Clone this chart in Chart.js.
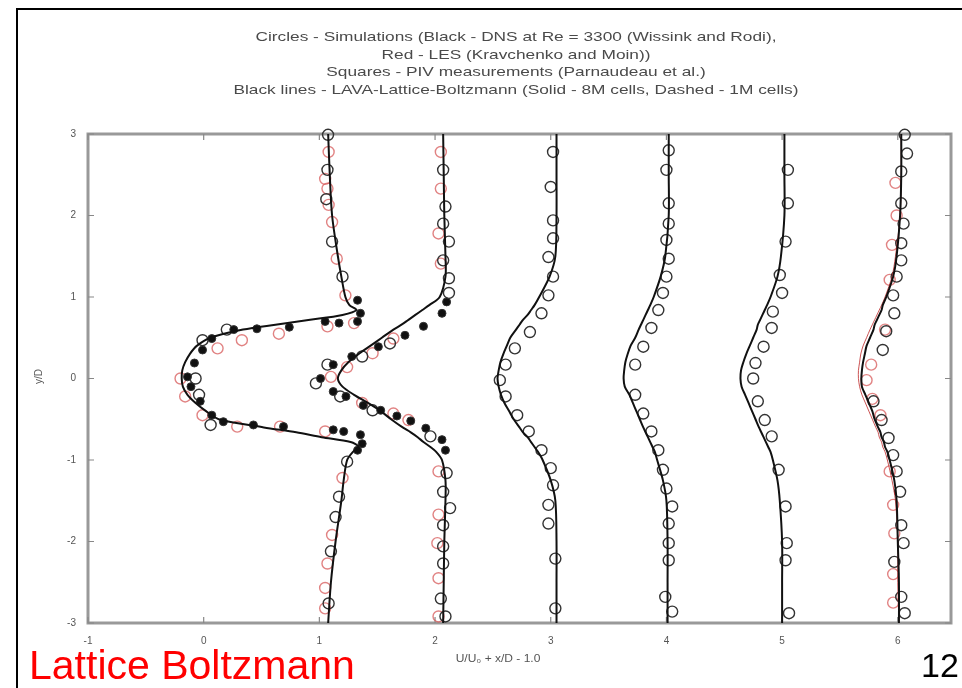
<!DOCTYPE html>
<html>
<head>
<meta charset="utf-8">
<script src="https://cdn.jsdelivr.net/npm/chart.js@4.4.1/dist/chart.umd.min.js"></script>
<style>
  html, body { margin: 0; padding: 0; background: #fff; }
  #wrap { position: relative; width: 962px; height: 688px; overflow: hidden; font-family: "Liberation Sans", Arial, sans-serif; }
  #frame { position: absolute; left: 16px; top: 8px; width: 1000px; height: 800px; border-left: 2px solid #000; border-top: 2px solid #000; }
  #chart { position: absolute; left: 0; top: 0; }
  .title { position: absolute; left: 216px; width: 600px; top: 28px; text-align: center; font-size: 13.5px; line-height: 17.5px; color: #4a4a4a; transform: scaleX(1.28); transform-origin: 300px 0; }
  .ylab { position: absolute; left: 31px; top: 371px; font-size: 10px; color: #555; transform: rotate(-90deg); }
  .xlab { position: absolute; left: 448px; top: 653px; width: 100px; text-align: center; font-size: 10px; color: #555; transform: scaleX(1.2); }
  .brand { position: absolute; left: 29px; top: 642px; font-size: 41px; color: #f00; }
  .num { position: absolute; left: 921px; top: 646px; font-size: 34px; color: #000; }
</style>
</head>
<body>
<div id="wrap">
  <div id="frame"></div>
  <canvas id="chart" width="962" height="688"></canvas>
  <div class="title">
    Circles - Simulations (Black - DNS at Re = 3300 (Wissink and Rodi),<br>
    Red - LES (Kravchenko and Moin))<br>
    Squares - PIV measurements (Parnaudeau et al.)<br>
    Black lines - LAVA-Lattice-Boltzmann (Solid - 8M cells, Dashed - 1M cells)
  </div>
  <div class="ylab">y/D</div>
  <div class="xlab">U/U₀ + x/D - 1.0</div>
  <div class="brand">Lattice Boltzmann</div>
  <div class="num">12</div>
</div>
<script>
// graduations des axes
const xTicks = [-1, 0, 1, 2, 3, 4, 5, 6];
const yTicks = [-3, -2, -1, 0, 1, 2, 3];

// grille verticale commune des courbes LBM (y/D)
const yLine = [3, 2.5, 2, 1.5, 1.25, 1, 0.9, 0.84, 0.78, 0.72, 0.66, 0.6, 0.5, 0.4, 0.3, 0.2, 0.1, 0,
  -0.1, -0.2, -0.3, -0.4, -0.5, -0.6, -0.66, -0.72, -0.78, -0.84, -0.9, -1, -1.25, -1.5, -2, -2.5, -3];

// LBM 8M cells, une station par tableau (U/U0 + x/D - 1)
const lbm1 = [1.076, 1.09, 1.11, 1.16, 1.19, 1.225, 1.26, 1.32, 1.2, 0.92, 0.62, 0.34, 0.06, -0.06, -0.12, -0.16, -0.185, -0.19,
  -0.18, -0.14, -0.07, 0.02, 0.13, 0.52, 0.8, 1.02, 1.27, 1.34, 1.29, 1.24, 1.21, 1.19, 1.14, 1.1, 1.076];
const lbm2 = [2.07, 2.075, 2.08, 2.09, 2.09, 2.04, 1.95, 1.89, 1.83, 1.77, 1.71, 1.64, 1.54, 1.44, 1.34, 1.25, 1.19, 1.16,
  1.2, 1.3, 1.42, 1.53, 1.62, 1.72, 1.79, 1.85, 1.9, 1.96, 2.01, 2.06, 2.09, 2.09, 2.08, 2.075, 2.07];
const lbm3 = [3.05, 3.05, 3.05, 3.04, 2.99, 2.9, 2.86, 2.83, 2.8, 2.76, 2.73, 2.7, 2.65, 2.62, 2.59, 2.565, 2.55, 2.54,
  2.55, 2.57, 2.6, 2.64, 2.68, 2.73, 2.76, 2.8, 2.83, 2.86, 2.89, 2.93, 3.0, 3.04, 3.05, 3.05, 3.05];
const lbm4 = [4.02, 4.02, 4.02, 3.99, 3.95, 3.89, 3.86, 3.84, 3.82, 3.8, 3.78, 3.76, 3.73, 3.69, 3.665, 3.645, 3.635, 3.63,
  3.64, 3.68, 3.71, 3.74, 3.77, 3.8, 3.82, 3.84, 3.86, 3.88, 3.9, 3.92, 3.97, 4.0, 4.01, 4.01, 4.01];
const lbm5 = [5.02, 5.02, 5.02, 4.99, 4.96, 4.9, 4.87, 4.85, 4.83, 4.81, 4.79, 4.78, 4.75, 4.72, 4.69, 4.665, 4.645, 4.64,
  4.65, 4.68, 4.71, 4.74, 4.77, 4.8, 4.82, 4.84, 4.86, 4.88, 4.9, 4.92, 4.96, 4.98, 5.0, 5.0, 5.0];
const lbm6 = [6.03, 6.03, 6.02, 5.99, 5.96, 5.9, 5.87, 5.86, 5.84, 5.82, 5.8, 5.79, 5.76, 5.73, 5.715, 5.7, 5.69, 5.685,
  5.69, 5.72, 5.75, 5.78, 5.8, 5.83, 5.85, 5.86, 5.88, 5.89, 5.91, 5.93, 5.97, 5.99, 6.0, 6.01, 6.01];
// courbe rouge fine (LES) visible à la station 6
const les6 = [6.03, 6.03, 6.02, 5.98, 5.95, 5.89, 5.86, 5.84, 5.82, 5.8, 5.78, 5.76, 5.73, 5.7, 5.68, 5.67, 5.66, 5.66,
  5.67, 5.69, 5.72, 5.75, 5.78, 5.81, 5.83, 5.84, 5.86, 5.87, 5.89, 5.91, 5.95, 5.98, 6.0, 6.0, 6.01];

// cercles noirs : DNS (Wissink et Rodi)
const dnsX = [1.075, 1.07, 1.06, 1.11, 1.2, 0.2, -0.01, -0.07, -0.04, 0.06, 1.24, 1.17, 1.14, 1.1, 1.08,
  2.07, 2.09, 2.07, 2.12, 2.07, 2.12, 2.12, 1.61, 1.37, 1.07, 0.97, 1.18, 1.46, 1.96, 2.1, 2.07, 2.13, 2.07, 2.07, 2.07, 2.05, 2.09,
  3.02, 3.0, 3.02, 3.02, 2.98, 3.02, 2.98, 2.92, 2.82, 2.69, 2.61, 2.56, 2.61, 2.71, 2.81, 2.92, 3.0, 3.02, 2.98, 2.98, 3.04, 3.04,
  4.02, 4.0, 4.02, 4.02, 4.0, 4.02, 4.0, 3.97, 3.93, 3.87, 3.8, 3.73, 3.73, 3.8, 3.87, 3.93, 3.97, 4.0, 4.05, 4.02, 4.02, 4.02, 3.99, 4.05,
  5.05, 5.05, 5.03, 4.98, 5.0, 4.92, 4.91, 4.84, 4.77, 4.75, 4.79, 4.85, 4.91, 4.97, 5.03, 5.04, 5.03, 5.06,
  6.06, 6.08, 6.03, 6.03, 6.05, 6.03, 6.03, 5.99, 5.96, 5.97, 5.9, 5.87, 5.79, 5.86, 5.92, 5.96, 5.99, 6.02, 6.03, 6.05, 5.97, 6.03, 6.06];
const dnsY = [2.99, 2.56, 2.2, 1.68, 1.25, 0.6, 0.47, 0.0, -0.2, -0.57, -1.02, -1.45, -1.7, -2.12, -2.76,
  2.56, 2.11, 1.9, 1.68, 1.45, 1.23, 1.05, 0.43, 0.27, 0.17, -0.06, -0.22, -0.39, -0.71, -1.16, -1.39, -1.59, -1.8, -2.06, -2.27, -2.7, -2.92,
  2.78, 2.35, 1.94, 1.72, 1.49, 1.25, 1.02, 0.8, 0.57, 0.37, 0.17, -0.02, -0.22, -0.45, -0.65, -0.88, -1.1, -1.31, -1.55, -1.78, -2.21, -2.82,
  2.8, 2.56, 2.15, 1.9, 1.7, 1.47, 1.25, 1.05, 0.84, 0.62, 0.39, 0.17, -0.2, -0.43, -0.65, -0.88, -1.12, -1.35, -1.57, -1.78, -2.02, -2.23, -2.68, -2.86,
  2.56, 2.15, 1.68, 1.27, 1.05, 0.82, 0.62, 0.39, 0.19, 0.0, -0.28, -0.51, -0.71, -1.12, -1.57, -2.02, -2.23, -2.88,
  2.99, 2.76, 2.54, 2.15, 1.9, 1.66, 1.45, 1.25, 1.02, 0.8, 0.58, 0.35, -0.28, -0.51, -0.73, -0.94, -1.14, -1.39, -1.8, -2.02, -2.25, -2.68, -2.88];

// cercles rouges : LES (Kravchenko et Moin)
const lesX = [1.08, 1.05, 1.07, 1.08, 1.11, 1.15, 1.225, 1.3, 1.07, 0.65, 0.33, 0.12, -0.2, -0.16, -0.01, 0.29, 0.66, 1.05, 1.2, 1.11, 1.07, 1.05, 1.05,
  2.05, 2.05, 2.03, 2.05, 1.64, 1.46, 1.24, 1.1, 1.37, 1.64, 1.77, 2.03, 2.03, 2.02, 2.03, 2.03,
  5.98, 5.99, 5.95, 5.93, 5.89, 5.77, 5.73, 5.78, 5.85, 5.93, 5.96, 5.97, 5.96, 5.96];
const lesY = [2.78, 2.45, 2.33, 2.13, 1.92, 1.47, 1.02, 0.68, 0.64, 0.55, 0.47, 0.37, 0.0, -0.22, -0.45, -0.59, -0.59, -0.65, -1.22, -1.92, -2.27, -2.57, -2.82,
  2.78, 2.33, 1.78, 1.41, 0.49, 0.31, 0.14, 0.02, -0.3, -0.43, -0.51, -1.14, -1.67, -2.02, -2.45, -2.92,
  2.4, 2.0, 1.64, 1.21, 0.6, 0.17, -0.02, -0.25, -0.45, -1.14, -1.55, -1.9, -2.4, -2.75];

// points pleins : PIV (Parnaudeau et al.)
const pivX = [1.33, 1.355, 1.33, 1.17, 1.05, 0.74, 0.46, 0.26, 0.07, -0.01, -0.08, -0.14, -0.11, -0.03, 0.07, 0.17, 0.43, 0.69, 1.12, 1.21, 1.355, 1.37, 1.33,
  2.1, 2.06, 1.9, 1.74, 1.51, 1.28, 1.12, 1.01, 1.12, 1.23, 1.38, 1.53, 1.67, 1.79, 1.92, 2.06, 2.09];
const pivY = [0.96, 0.8, 0.7, 0.68, 0.7, 0.63, 0.61, 0.6, 0.49, 0.35, 0.19, 0.02, -0.1, -0.28, -0.45, -0.53, -0.57, -0.59, -0.63, -0.65, -0.69, -0.8, -0.88,
  0.94, 0.8, 0.64, 0.53, 0.39, 0.27, 0.17, 0.0, -0.16, -0.22, -0.33, -0.39, -0.46, -0.52, -0.61, -0.75, -0.88];

function pts(xs, ys) {
  return xs.map((v, i) => ({ x: v, y: ys[i] }));
}

function lineSet(xs, color, width) {
  return {
    data: pts(xs, yLine),
    showLine: true,
    borderColor: color,
    borderWidth: width,
    pointRadius: 0,
    tension: 0.3,
    clip: false
  };
}

// cadre gris et graduations intérieures (style gnuplot)
const frame = {
  id: 'frame',
  beforeDatasetsDraw(chart) {
    const { ctx, chartArea: a, scales: { x, y } } = chart;
    ctx.save();
    ctx.strokeStyle = '#999';
    ctx.lineWidth = 3;
    ctx.strokeRect(a.left, a.top, a.right - a.left, a.bottom - a.top);
    ctx.lineWidth = 1.2;
    ctx.strokeStyle = '#888';
    ctx.beginPath();
    xTicks.forEach(v => {
      let px = x.getPixelForValue(v);
      ctx.moveTo(px, a.bottom); ctx.lineTo(px, a.bottom - 6);
      ctx.moveTo(px, a.top); ctx.lineTo(px, a.top + 6);
    });
    yTicks.forEach(v => {
      let py = y.getPixelForValue(v);
      ctx.moveTo(a.left, py); ctx.lineTo(a.left + 6, py);
      ctx.moveTo(a.right, py); ctx.lineTo(a.right - 6, py);
    });
    ctx.stroke();
    ctx.restore();
  }
};

new Chart(document.getElementById('chart'), {
  type: 'scatter',
  data: {
    datasets: [
      lineSet(lbm1, '#111', 2),
      lineSet(lbm2, '#111', 2),
      lineSet(lbm3, '#111', 2),
      lineSet(lbm4, '#111', 2),
      lineSet(lbm5, '#111', 2),
      lineSet(lbm6, '#111', 2),
      lineSet(les6, 'rgba(190,40,40,0.8)', 1),
      {
        data: pts(pivX, pivY),
        pointRadius: 4,
        pointBackgroundColor: '#111',
        pointBorderColor: '#333',
        pointBorderWidth: 1,
        clip: false
      },
      {
        data: pts(dnsX, dnsY),
        pointRadius: 5.5,
        pointBackgroundColor: 'rgba(0,0,0,0)',
        pointBorderColor: '#333',
        pointBorderWidth: 1.4,
        clip: false
      },
      {
        data: pts(lesX, lesY),
        pointRadius: 5.5,
        pointBackgroundColor: 'rgba(0,0,0,0)',
        pointBorderColor: 'rgba(215,90,90,0.75)',
        pointBorderWidth: 1.4,
        clip: false
      }
    ]
  },
  options: {
    responsive: false,
    animation: false,
    layout: { padding: { top: 134, right: 11, bottom: 25, left: 0 } },
    plugins: { legend: { display: false }, tooltip: { enabled: false } },
    scales: {
      x: {
        type: 'linear', min: -1, max: 6.46,
        grid: { display: false, drawTicks: false },
        border: { display: false },
        afterBuildTicks: s => { s.ticks = xTicks.map(v => ({ value: v })); },
        afterFit: s => { s.height = 40; },
        ticks: { color: '#555', padding: 12, font: { family: 'Liberation Sans', size: 10 } }
      },
      y: {
        type: 'linear', min: -3, max: 3,
        grid: { display: false, drawTicks: false },
        border: { display: false },
        afterBuildTicks: s => { s.ticks = yTicks.map(v => ({ value: v })); },
        afterFit: s => { s.width = 88; },
        ticks: { color: '#555', padding: 12, font: { family: 'Liberation Sans', size: 10 } }
      }
    }
  },
  plugins: [frame]
});
</script>
</body>
</html>
